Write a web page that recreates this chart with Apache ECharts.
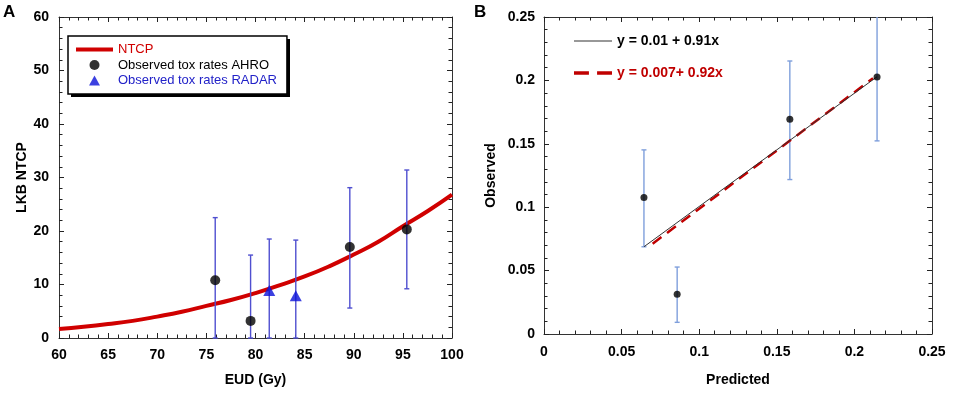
<!DOCTYPE html>
<html>
<head>
<meta charset="utf-8">
<script src="https://cdn.jsdelivr.net/npm/echarts@6/dist/echarts.min.js"></script>
<style>
  html, body { margin: 0; padding: 0; background: #fff; }
  #chart { width: 957px; height: 395px; }
</style>
</head>
<body>
<div id="chart"></div>
<script>
// ---- panel A data ----
const eudGrid = [60, 62.5, 65, 67.5, 70, 72.5, 75, 77.5, 80, 82.5, 85, 87.5, 90, 92.5, 95, 97.5, 100];
const ntcpCurve = [1.7, 2.1, 2.6, 3.2, 4.0, 4.9, 6.0, 7.1, 8.4, 9.9, 11.5, 13.4, 15.6, 18.0, 20.9, 23.7, 26.8];
const ahroEud = [75.9, 79.5, 89.6, 95.4];
const ahroRate = [10.8, 3.2, 17.0, 20.3];
const ahroLow = [0, 0, 5.6, 9.2];
const ahroHigh = [22.5, 15.5, 28.1, 31.4];
const radarEud = [81.4, 84.1];
const radarRate = [8.9, 7.9];
const radarLow = [0, 0];
const radarHigh = [18.5, 18.3];

// ---- panel B data ----
const predicted = [0.0644, 0.0858, 0.1584, 0.2146];
const observed = [0.1077, 0.0313, 0.1694, 0.2027];
const obsLow = [0.0688, 0.0092, 0.1218, 0.1523];
const obsHigh = [0.1452, 0.0528, 0.2153, 0.26];
const fitBlackX = [0.0644, 0.2146];
const fitBlackY = [0.0688, 0.2029];
const fitRedX = [0.0700, 0.2120];
const fitRedY = [0.0712, 0.2017];

const FONT = "'Liberation Sans', Arial, sans-serif";
const zip = (a, b) => a.map((v, i) => [v, b[i]]);
const zip3 = (a, b, c) => a.map((v, i) => [v, b[i], c[i]]);

// vertical error bar with small caps, drawn through the axis scales
const errBar = (color, cap) => (params, api) => {
  const x = api.value(0);
  const lo = api.coord([x, api.value(1)]);
  const hi = api.coord([x, api.value(2)]);
  const st = { stroke: color, lineWidth: 1.4 };
  return {
    type: 'group',
    children: [
      { type: 'line', shape: { x1: lo[0], y1: lo[1], x2: hi[0], y2: hi[1] }, style: st },
      { type: 'line', shape: { x1: hi[0] - cap, y1: hi[1], x2: hi[0] + cap, y2: hi[1] }, style: st },
      { type: 'line', shape: { x1: lo[0] - cap, y1: lo[1], x2: lo[0] + cap, y2: lo[1] }, style: st }
    ]
  };
};

const axisLine = { lineStyle: { color: '#333', width: 1 } };
const tickIn = { inside: true, length: 5, lineStyle: { color: '#222', width: 1 } };
const minorIn = { show: true, splitNumber: 5, length: 3.5, lineStyle: { color: '#222', width: 1 } };
const lab = { color: '#000', fontFamily: FONT, fontWeight: 'bold', fontSize: 14 };
const nameStyle = { color: '#000', fontFamily: FONT, fontWeight: 'bold', fontSize: 14 };

function mainAxis(min, max, interval, extra) {
  return Object.assign({
    type: 'value', min, max, interval,
    axisLine: Object.assign({ onZero: false }, axisLine),
    axisTick: tickIn, minorTick: minorIn,
    splitLine: { show: false },
    axisLabel: Object.assign({}, lab)
  }, extra);
}
function mirrorAxis(min, max, interval, extra) {
  return Object.assign({
    type: 'value', min, max, interval,
    axisLine: Object.assign({ onZero: false }, axisLine),
    axisTick: tickIn, minorTick: minorIn,
    splitLine: { show: false },
    axisLabel: { show: false }
  }, extra);
}

const chart = echarts.init(document.getElementById('chart'));
chart.setOption({
  animation: false,
  backgroundColor: '#fff',
  textStyle: { fontFamily: FONT },
  graphic: [
    { type: 'text', left: 3, top: 4, style: { text: 'A', font: 'bold 17px ' + FONT, fill: '#000' } },
    { type: 'text', left: 474, top: 4, style: { text: 'B', font: 'bold 17px ' + FONT, fill: '#000' } },
    // drop shadow behind the panel A legend box
    { type: 'rect', z: 0, shape: { x: 71, y: 39, width: 219, height: 58 }, style: { fill: '#000' } }
  ],
  grid: [
    { left: 59, right: 505, top: 17, bottom: 57 },
    { left: 544, right: 25, top: 17, bottom: 61 }
  ],
  legend: [
    {
      orient: 'vertical', left: 68, top: 36, selectedMode: false, z: 10,
      padding: [7, 10, 7, 8], itemWidth: 37, itemHeight: 10, itemGap: 2.5,
      backgroundColor: '#fff', borderColor: '#000', borderWidth: 1.5,
      textStyle: { fontFamily: FONT, fontSize: 13, padding: [0, 0, 0, 0] },
      data: [
        { name: 'NTCP', icon: 'path://M0,0h37v4h-37z', textStyle: { color: '#d00000' } },
        { name: 'Observed tox rates AHRO', icon: 'circle', textStyle: { color: '#000' } },
        { name: 'Observed tox rates RADAR', icon: 'path://M6,0L12,11L0,11z', textStyle: { color: '#2222c8' } }
      ]
    },
    {
      orient: 'vertical', left: 574, top: 34, selectedMode: false,
      padding: 0, itemWidth: 38, itemHeight: 14, itemGap: 18,
      textStyle: { fontFamily: FONT, fontSize: 14, fontWeight: 'bold' },
      data: [
        { name: 'y = 0.01 + 0.91x', icon: 'path://M0,0h38v1.2h-38z', textStyle: { color: '#000' } },
        { name: 'y = 0.007+ 0.92x', icon: 'path://M0,0h11v2.5h-11zM17,0h11v2.5h-11z', textStyle: { color: '#c00000' } }
      ]
    }
  ],
  xAxis: [
    mainAxis(60, 100, 5, { gridIndex: 0, name: 'EUD (Gy)', nameLocation: 'middle', nameGap: 35, nameTextStyle: nameStyle, axisLabel: Object.assign({ margin: 10 }, lab) }),
    mirrorAxis(60, 100, 5, { gridIndex: 0, position: 'top' }),
    mainAxis(0, 0.25, 0.05, { gridIndex: 1, name: 'Predicted', nameLocation: 'middle', nameGap: 39, nameTextStyle: nameStyle, axisLabel: Object.assign({ margin: 11, formatter: v => String(+v.toFixed(2)) }, lab) }),
    mirrorAxis(0, 0.25, 0.05, { gridIndex: 1, position: 'top' })
  ],
  yAxis: [
    mainAxis(0, 60, 10, { gridIndex: 0, name: 'LKB NTCP', nameLocation: 'middle', nameGap: 30, nameTextStyle: nameStyle, axisLabel: Object.assign({ margin: 10 }, lab) }),
    mirrorAxis(0, 60, 10, { gridIndex: 0, position: 'right' }),
    mainAxis(0, 0.25, 0.05, { gridIndex: 1, name: 'Observed', nameLocation: 'middle', nameGap: 46, nameTextStyle: nameStyle, axisLabel: Object.assign({ margin: 9, formatter: v => String(+v.toFixed(2)) }, lab) }),
    mirrorAxis(0, 0.25, 0.05, { gridIndex: 1, position: 'right' })
  ],
  series: [
    {
      name: 'NTCP', type: 'line', xAxisIndex: 0, yAxisIndex: 0,
      data: zip(eudGrid, ntcpCurve), smooth: true, symbol: 'none', z: 2,
      itemStyle: { color: '#d00000' },
      lineStyle: { color: '#d00000', width: 4 }
    },
    {
      type: 'custom', xAxisIndex: 0, yAxisIndex: 0, z: 3, silent: true,
      renderItem: errBar('#4f4fd0', 2.5), encode: { x: 0, y: [1, 2] },
      data: zip3(ahroEud, ahroLow, ahroHigh).concat(zip3(radarEud, radarLow, radarHigh))
    },
    {
      name: 'Observed tox rates AHRO', type: 'scatter', xAxisIndex: 0, yAxisIndex: 0, z: 4,
      data: zip(ahroEud, ahroRate), symbol: 'circle', symbolSize: 10,
      itemStyle: { color: '#000' }
    },
    {
      name: 'Observed tox rates RADAR', type: 'scatter', xAxisIndex: 0, yAxisIndex: 0, z: 4,
      data: zip(radarEud, radarRate), symbol: 'triangle', symbolSize: [12, 11],
      itemStyle: { color: '#0a10d8' }
    },
    {
      type: 'custom', xAxisIndex: 2, yAxisIndex: 2, z: 3, silent: true, clip: true,
      renderItem: errBar('#7f9fdc', 2.5), encode: { x: 0, y: [1, 2] },
      data: zip3(predicted, obsLow, obsHigh)
    },
    {
      name: 'y = 0.01 + 0.91x', type: 'line', xAxisIndex: 2, yAxisIndex: 2, z: 4,
      data: zip(fitBlackX, fitBlackY), symbol: 'none',
      itemStyle: { color: '#333' },
      lineStyle: { color: '#333', width: 1 }
    },
    {
      name: 'y = 0.007+ 0.92x', type: 'line', xAxisIndex: 2, yAxisIndex: 2, z: 3,
      data: zip(fitRedX, fitRedY), symbol: 'none',
      itemStyle: { color: '#c00000' },
      lineStyle: { color: '#c00000', width: 2.5, type: [11, 7] }
    },
    {
      type: 'scatter', xAxisIndex: 2, yAxisIndex: 2, z: 5,
      data: zip(predicted, observed), symbol: 'circle', symbolSize: 7,
      itemStyle: { color: '#000' }
    }
  ]
});
</script>
</body>
</html>
